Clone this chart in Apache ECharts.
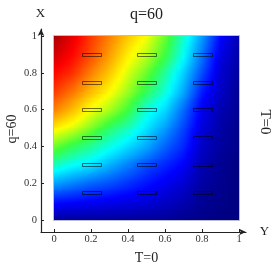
<!DOCTYPE html>
<html><head><meta charset="utf-8">
<script src="https://cdn.jsdelivr.net/npm/echarts@6/dist/echarts.min.js"></script>
<style>html,body{margin:0;padding:0;background:#fff}#c{width:278px;height:268px}</style>
</head><body><div id="c"></div>
<script>
// sample positions of the read field
const xGrid = [0, 0.1, 0.2, 0.3, 0.4, 0.5, 0.6, 0.7, 0.8, 0.9, 1];
const yGrid = [0, 0.1, 0.2, 0.3, 0.4, 0.5, 0.6, 0.7, 0.8, 0.9, 1];
// normalised field value (rainbow colour scale); row k is y = yGrid[k]
const fieldY00 = [0.02, 0.02, 0.02, 0.02, 0.02, 0.02, 0.02, 0.01, 0.01, 0.00, 0.00];
const fieldY01 = [0.14, 0.13, 0.12, 0.11, 0.10, 0.09, 0.07, 0.05, 0.02, 0.01, 0.00];
const fieldY02 = [0.28, 0.25, 0.22, 0.20, 0.17, 0.14, 0.11, 0.08, 0.035, 0.015, 0.00];
const fieldY03 = [0.42, 0.38, 0.35, 0.30, 0.25, 0.20, 0.16, 0.12, 0.05, 0.02, 0.00];
const fieldY04 = [0.53, 0.48, 0.44, 0.39, 0.34, 0.29, 0.22, 0.16, 0.07, 0.03, 0.01];
const fieldY05 = [0.64, 0.60, 0.54, 0.47, 0.42, 0.35, 0.28, 0.19, 0.09, 0.04, 0.01];
const fieldY06 = [0.75, 0.69, 0.62, 0.57, 0.50, 0.40, 0.34, 0.23, 0.11, 0.05, 0.02];
const fieldY07 = [0.82, 0.76, 0.69, 0.63, 0.56, 0.48, 0.40, 0.29, 0.15, 0.07, 0.02];
const fieldY08 = [0.87, 0.83, 0.75, 0.68, 0.60, 0.53, 0.44, 0.33, 0.20, 0.08, 0.03];
const fieldY09 = [0.92, 0.87, 0.80, 0.72, 0.64, 0.58, 0.50, 0.38, 0.24, 0.10, 0.04];
const fieldY10 = [0.96, 0.90, 0.82, 0.75, 0.68, 0.62, 0.53, 0.41, 0.28, 0.13, 0.05];
const fieldRows = [fieldY00, fieldY01, fieldY02, fieldY03, fieldY04, fieldY05, fieldY06, fieldY07, fieldY08, fieldY09, fieldY10];
// small outlined rectangles (centres)
const rectXs = [0.2, 0.5, 0.8];
const rectYs = [0.15, 0.3, 0.45, 0.6, 0.75, 0.9];
// ticks
const tickValues = [0, 0.2, 0.4, 0.6, 0.8, 1];
const tickLabels = ['0', '0.2', '0.4', '0.6', '0.8', '1'];

// colour scale (style)
const CMAP = [
  [0.0, [0, 0, 128]], [0.125, [0, 0, 255]], [0.375, [0, 255, 255]], [0.5, [60, 255, 60]],
  [0.625, [255, 255, 0]], [0.875, [255, 0, 0]], [1.0, [128, 0, 0]]
];
function cmap(v) {
  v = Math.max(0, Math.min(1, v));
  for (let i = 1; i < CMAP.length; i++) {
    if (v <= CMAP[i][0]) {
      const a = CMAP[i - 1], b = CMAP[i];
      const t = (v - a[0]) / (b[0] - a[0]);
      return 'rgb(' + [0, 1, 2].map(k => Math.round(a[1][k] + (b[1][k] - a[1][k]) * t)).join(',') + ')';
    }
  }
  return 'rgb(128,0,0)';
}
function labelFor(v) {
  let best = 0;
  for (let i = 0; i < tickValues.length; i++) if (Math.abs(tickValues[i] - v) < Math.abs(tickValues[best] - v)) best = i;
  return tickLabels[best];
}

const bandData = yGrid.slice(0, -1).map((y, j) => [0, y, j]);
const rectData = [];
rectYs.forEach(y => rectXs.forEach(x => rectData.push([x, y])));
const frameData = [[xGrid[0], yGrid[0], xGrid[xGrid.length - 1], yGrid[yGrid.length - 1]]];

function renderField(params, api) {
  const j = api.value(2);
  const y0 = yGrid[j], y1 = yGrid[j + 1];
  const rowA = fieldRows[j], rowB = fieldRows[j + 1];
  const xMin = xGrid[0], xMax = xGrid[xGrid.length - 1];
  const K = 19, S = 4;
  const children = [];
  for (let k = 0; k < K; k++) {
    const ta = k / K, tb = (k + 1) / K, tm = (ta + tb) / 2;
    const pa = api.coord([xMin, y0 + (y1 - y0) * ta]);
    const pb = api.coord([xMax, y0 + (y1 - y0) * tb]);
    const top = Math.floor(pb[1]), bottom = Math.ceil(pa[1]);
    const stops = [];
    for (let i = 0; i < xGrid.length - 1; i++) {
      for (let s = 0; s < S; s++) {
        const u = s / S;
        const va = rowA[i] * (1 - u) + rowA[i + 1] * u;
        const vb = rowB[i] * (1 - u) + rowB[i + 1] * u;
        const xv = xGrid[i] + (xGrid[i + 1] - xGrid[i]) * u;
        stops.push({ offset: (xv - xMin) / (xMax - xMin), color: cmap(va * (1 - tm) + vb * tm) });
      }
    }
    const last = xGrid.length - 1;
    stops.push({ offset: 1, color: cmap(rowA[last] * (1 - tm) + rowB[last] * tm) });
    children.push({
      type: 'rect',
      shape: { x: Math.round(pa[0]), y: top, width: Math.round(pb[0]) - Math.round(pa[0]), height: bottom - top },
      style: { fill: new echarts.graphic.LinearGradient(0, 0, 1, 0, stops) }
    });
  }
  return { type: 'group', children };
}

function renderFrame(params, api) {
  const a = api.coord([api.value(0), api.value(1)]);
  const b = api.coord([api.value(2), api.value(3)]);
  return {
    type: 'rect',
    shape: { x: Math.round(a[0]) - 0.5, y: Math.round(b[1]) - 0.5, width: Math.round(b[0]) - Math.round(a[0]) + 1, height: Math.round(a[1]) - Math.round(b[1]) + 1 },
    style: { fill: 'none', stroke: 'rgba(170,170,200,0.8)', lineWidth: 1 }
  };
}

function renderRect(params, api) {
  const c = api.coord([api.value(0), api.value(1)]);
  const w = api.size([0.1, 0])[0];
  return {
    type: 'rect',
    shape: { x: Math.round(c[0] - w / 2) + 0.5, y: Math.round(c[1] - 1.5) + 0.5, width: Math.round(w), height: 3 },
    style: { fill: 'none', stroke: 'rgba(0,0,0,0.55)', lineWidth: 1 }
  };
}

const serif = 'Liberation Serif';
const axisCommon = {
  type: 'value',
  splitLine: { show: false },
  axisLine: { show: true, onZero: false, symbol: ['none', 'arrow'], symbolSize: [5, 7], lineStyle: { color: '#222', width: 1.2 } },
  axisTick: { show: true, inside: true, length: 3, customValues: tickValues, lineStyle: { color: '#222' } },
};

const chart = echarts.init(document.getElementById('c'), null, { renderer: 'canvas' });
chart.setOption({
  animation: false,
  grid: { left: 41, top: 29, width: 205, height: 203, outerBoundsMode: 'none' },
  xAxis: Object.assign({}, axisCommon, {
    min: -13 / 185, max: 1 + 7 / 185,
    axisLabel: { customValues: tickValues, formatter: labelFor, margin: 2, fontFamily: serif, fontSize: 10.5, color: '#333' }
  }),
  yAxis: Object.assign({}, axisCommon, {
    min: -12 / 184, max: 1 + 7 / 184,
    axisLabel: { customValues: tickValues, formatter: labelFor, margin: 4, fontFamily: serif, fontSize: 10.5, color: '#333' }
  }),
  series: [
    { type: 'custom', renderItem: renderField, data: bandData, z: 1, silent: true },
    { type: 'custom', renderItem: renderFrame, data: frameData, z: 2, silent: true },
    { type: 'custom', renderItem: renderRect, data: rectData, z: 3, silent: true }
  ],
  graphic: [
    { type: 'text', x: 146.5, y: 15, style: { text: 'q=60', font: '16px ' + serif, fill: '#222', align: 'center', verticalAlign: 'middle' } },
    { type: 'text', x: 40.5, y: 14, style: { text: 'X', font: '13px ' + serif, fill: '#222', align: 'center', verticalAlign: 'middle' } },
    { type: 'text', x: 264.5, y: 232, style: { text: 'Y', font: '13px ' + serif, fill: '#222', align: 'center', verticalAlign: 'middle' } },
    { type: 'text', x: 146.5, y: 258, style: { text: 'T=0', font: '14px ' + serif, fill: '#222', align: 'center', verticalAlign: 'middle' } },
    { type: 'text', x: 12.5, y: 129, rotation: Math.PI / 2, style: { text: 'q=60', font: '14px ' + serif, fill: '#222', align: 'center', verticalAlign: 'middle' } },
    { type: 'text', x: 265, y: 122, rotation: -Math.PI / 2, style: { text: 'T=0', font: '15px ' + serif, fill: '#222', align: 'center', verticalAlign: 'middle' } }
  ]
});
</script>
</body></html>
